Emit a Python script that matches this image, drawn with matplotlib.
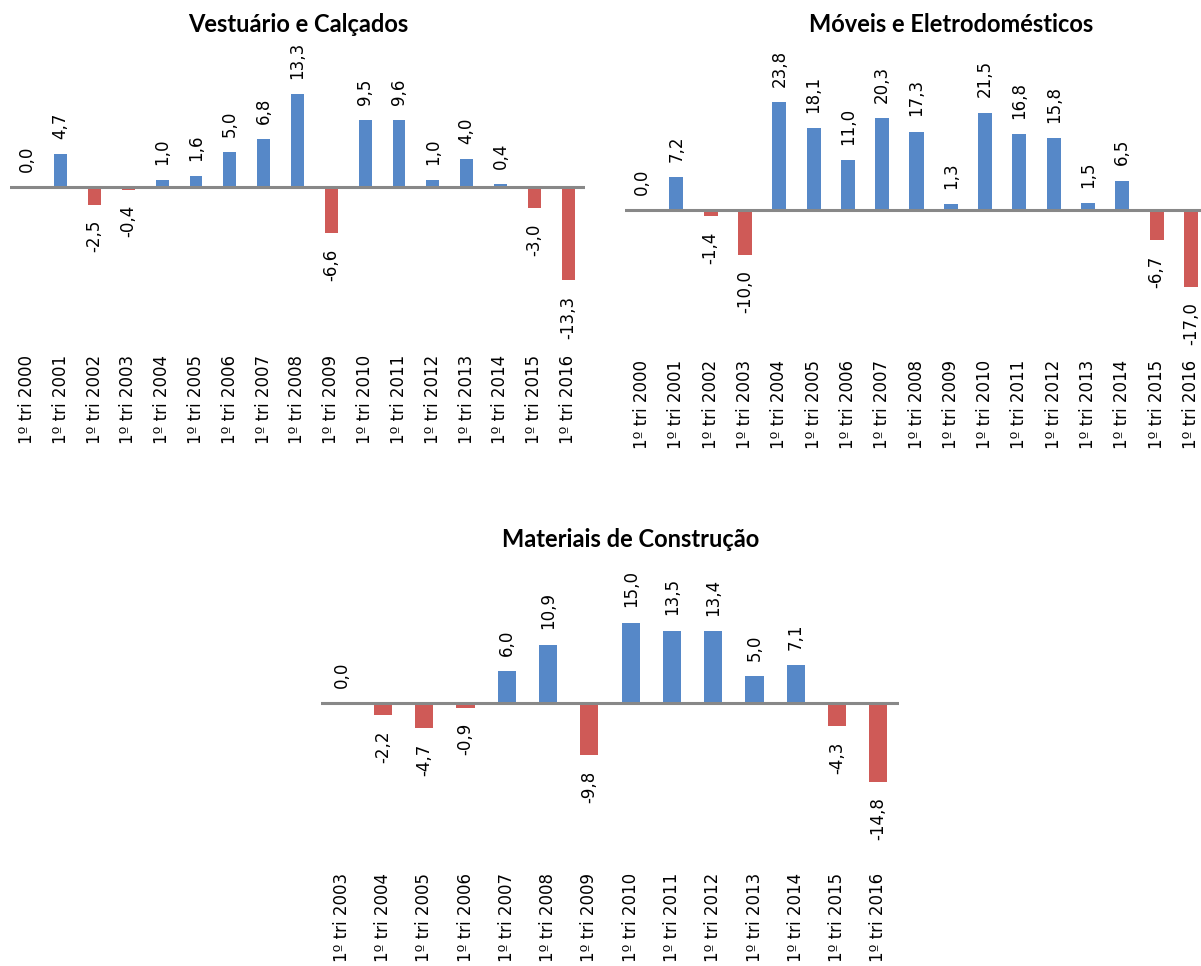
#!/usr/bin/env python3
"""
Quarterly growth bars for three retail segments (1º tri of each year).
"""

import matplotlib
matplotlib.use("Agg")
import matplotlib.pyplot as plt

plt.rcParams["font.family"] = ["DejaVu Sans"]

# --- data -----------------------------------------------------------------
years_top = list(range(2000, 2017))
years_bottom = list(range(2003, 2017))

vestuario = [0.0, 4.7, -2.5, -0.4, 1.0, 1.6, 5.0, 6.8, 13.3, -6.6,
             9.5, 9.6, 1.0, 4.0, 0.4, -3.0, -13.3]
moveis = [0.0, 7.2, -1.4, -10.0, 23.8, 18.1, 11.0, 20.3, 17.3, 1.3,
          21.5, 16.8, 15.8, 1.5, 6.5, -6.7, -17.0]
materiais = [0.0, -2.2, -4.7, -0.9, 6.0, 10.9, -9.8, 15.0, 13.5, 13.4,
             5.0, 7.1, -4.3, -14.8]

titles = ["Vestuário e Calçados", "Móveis e Eletrodomésticos",
          "Materiais de Construção"]

BLUE = "#5688C8"
RED = "#CF5A57"
GRAY = "#888888"

W, H = 1201, 966
fig = plt.figure(figsize=(W / 100, H / 100), dpi=100)


def add_px(left, top, right, bottom):
    """Axes placed by pixel box."""
    return fig.add_axes([left / W, 1 - bottom / H,
                         (right - left) / W, (bottom - top) / H])


def bar_panel(ax, years, values, ylim, width):
    x = list(range(len(values)))
    colors = [BLUE if v >= 0 else RED for v in values]
    ax.bar(x, values, width=width, color=colors, zorder=2)
    ax.axhline(0, color=GRAY, lw=2.2, zorder=3)
    for xi, v in zip(x, values):
        label = f"{v:.1f}".replace(".", ",")
        up = v >= 0
        ax.annotate(label, (xi, v), xytext=(0, 11 if up else -11),
                    textcoords="offset points", rotation=90,
                    ha="center", va="bottom" if up else "top",
                    fontsize=12, color="black")
    ax.set_xlim(-0.5, len(values) - 0.5)
    ax.set_ylim(*ylim)
    ax.set_xticks(x)
    ax.set_xticklabels([f"1º tri {y}" for y in years], rotation=90,
                       fontsize=12)
    ax.tick_params(axis="x", length=0, pad=2)
    ax.set_yticks([])
    for s in ax.spines.values():
        s.set_visible(False)
    ax.patch.set_alpha(0)


ax1 = add_px(10, 45, 585, 352)
bar_panel(ax1, years_top, vestuario, (-(352 - 187) / 7.0, (187 - 45) / 7.0), 0.38)

ax2 = add_px(625, 45, 1208, 357)
bar_panel(ax2, years_top, moveis, (-(357 - 210) / 4.53, (210 - 45) / 4.53), 0.41)

ax3 = add_px(321, 560, 899, 870)
bar_panel(ax3, years_bottom, materiais, (-(870 - 703) / 5.35, (703 - 560) / 5.35), 0.44)

# titles sit a bit off the axes centre in the original, so place them by pixel
for (cx, cy), t in zip([(298, 32), (951, 32), (631, 547)], titles):
    fig.text(cx / W, 1 - cy / H, t, ha="center", va="baseline",
             fontsize=17, fontweight="bold", family=["Lato", "DejaVu Sans"])

fig.savefig("out.png", dpi=100)
